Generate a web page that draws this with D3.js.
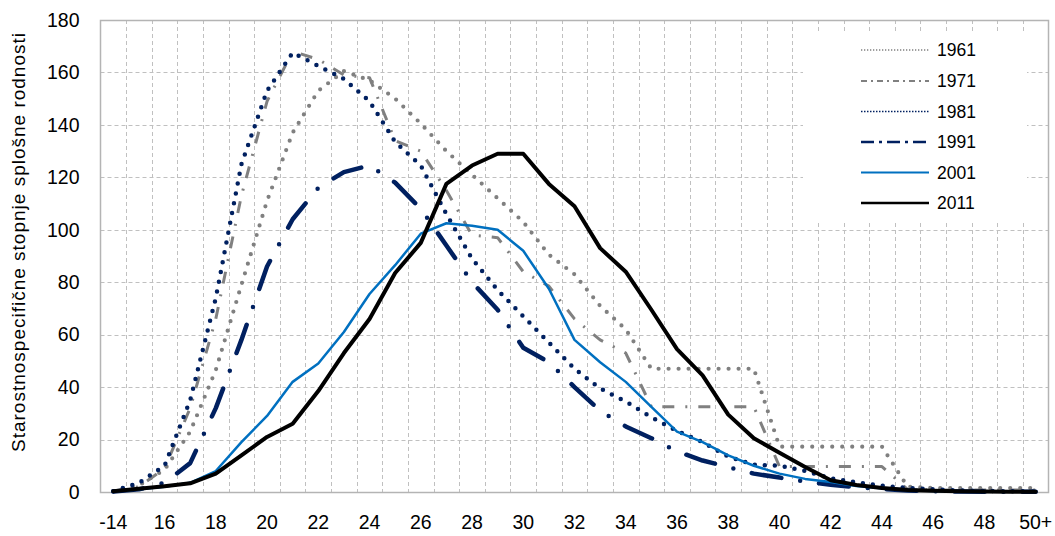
<!DOCTYPE html>
<html>
<head>
<meta charset="utf-8">
<script src="https://cdn.jsdelivr.net/npm/d3@7"></script>
<style>
  html, body { margin: 0; padding: 0; background: #fff; }
  svg { display: block; font-family: "Liberation Sans", Arial, sans-serif; }
</style>
</head>
<body>
<svg id="chart" width="1055" height="536"></svg>
<script>
const categories = ["-14","15","16","17","18","19","20","21","22","23","24","25","26","27","28","29","30","31","32","33","34","35","36","37","38","39","40","41","42","43","44","45","46","47","48","49","50+"];
const xTickLabels = ["-14","16","18","20","22","24","26","28","30","32","34","36","38","40","42","44","46","48","50+"];
const yTicks = [0,20,40,60,80,100,120,140,160,180];
const seriesNames = ["1961","1971","1981","1991","2001","2011"];
const yTitle = "Starostnospecifične stopnje splošne rodnosti";

const s1961 = [0.3,2.5,8.5,23,46.5,79,111,137,153,160.5,157,150,140.5,130,121,112,103,90.5,83,71,62,47,47,47,47,47,17.3,17.3,17.3,17.3,17.3,2,1.5,1.5,1.5,1.5,1.5];
const s1971 = [0.2,2,9,32,66,113,149,168,165,159,158,134,130,115,98,97,84,78.5,66,58,53,32.5,32.5,32.5,32.5,32.5,9.7,9.7,9.7,9.7,9.7,1,0.8,0.8,0.8,0.8,0.8];
const s1981 = [0.3,3.5,10,35,74,125,153,167.5,162.5,157.5,149,133.5,124.5,106,89,77,67,57,47,39.5,34.5,28.5,23.3,19,13.5,10.4,10,8,5.2,3.7,2.4,1.5,1,0.6,0.4,0.3,0.2];
const s1991 = [0.2,1,3.5,11,32,58,86,104,116,122,124.5,118,108,94,80,69.5,55,49.5,40,31,25,20.5,15.5,12,9.5,7,5.5,4,2.8,1.8,1.1,0.6,0.3,0.2,0.1,0.1,0.1];
const s2001 = [0.2,1,2,3.5,8,19,29,42,49,61,75.5,86.5,98.5,102.5,101.5,100,92,77.5,58,49.5,42,32.5,23,19,14,10,7,5,3.8,2.3,1.4,0.8,0.4,0.2,0.1,0.1,0.1];
const s2011 = [0.3,1.2,2.2,3.3,7,14,21,26,38.5,53,66,83.5,95,117.5,124.5,129,129,117.5,109,93,84,69.5,54.5,44.5,29.5,20.5,15,9.5,4.5,2.7,1.5,0.8,0.5,0.3,0.2,0.1,0.1];

const seriesValues = [s1961, s1971, s1981, s1991, s2001, s2011];

// styles (not data)
const lineStyles = [
  {color:"#808080", width:4.2, dash:"0 10", cap:"round"},
  {color:"#808080", width:3, dash:"12 11 2 11", cap:"butt"},
  {color:"#002060", width:4.5, dash:"0 10", cap:"round"},
  {color:"#002060", width:4.5, dash:"30 19 0 19", cap:"round"},
  {color:"#0070C0", width:2.5, dash:null, cap:"round"},
  {color:"#000000", width:4, dash:null, cap:"round"}
];
const legendStyles = [
  {color:"#808080", width:1.3, dash:"1.3 1.7"},
  {color:"#808080", width:2, dash:"6 4 2 4"},
  {color:"#002060", width:1.5, dash:"1.5 1.5"},
  {color:"#002060", width:2.5, dash:"13 5 3 5"},
  {color:"#0070C0", width:2, dash:null},
  {color:"#000000", width:2.5, dash:null}
];

const svg = d3.select("#chart");
const pLeft = 100.5, pRight = 1048.5, pTop = 20, pBottom = 492;

const x = d3.scaleBand().domain(categories).range([pLeft, pRight]).paddingInner(0).paddingOuter(0);
const y = d3.scaleLinear().domain([0, 180]).range([pBottom, pTop]);
const cx = c => x(c) + x.bandwidth() / 2;

const grid = svg.append("g");
grid.selectAll("line.h").data(yTicks.filter(v => v > 0 && v < 180)).enter().append("line")
  .attr("x1", pLeft).attr("x2", pRight)
  .attr("y1", d => Math.round(y(d)) + 0.5).attr("y2", d => Math.round(y(d)) + 0.5)
  .attr("stroke", "#c0c0c0").attr("stroke-width", 1).attr("stroke-dasharray", "4 3");
grid.selectAll("line.v").data(categories.slice(1)).enter().append("line")
  .attr("x1", d => Math.round(x(d)) + 0.5).attr("x2", d => Math.round(x(d)) + 0.5)
  .attr("y1", pTop).attr("y2", pBottom)
  .attr("stroke", "#c0c0c0").attr("stroke-width", 1).attr("stroke-dasharray", "4 3");

svg.append("rect").attr("x", pLeft).attr("y", pTop + 0.5).attr("width", pRight - pLeft).attr("height", pBottom - pTop)
  .attr("fill", "none").attr("stroke", "#b4b4b4").attr("stroke-width", 1.5);

svg.append("rect").attr("x", 803).attr("y", 32).attr("width", 224).attr("height", 188).attr("fill", "#fff");

const xAxis = d3.axisBottom(x).tickValues(xTickLabels).tickSize(0).tickPadding(23);
const gx = svg.append("g").attr("transform", `translate(0,${pBottom})`).call(xAxis);
gx.select(".domain").remove();
gx.selectAll("text").attr("font-size", 19.5).attr("fill", "#000").attr("font-family", "Liberation Sans, Arial, sans-serif");

const yAxis = d3.axisLeft(y).tickValues(yTicks).tickSize(0).tickPadding(21);
const gy = svg.append("g").attr("transform", `translate(${pLeft},0)`).call(yAxis);
gy.select(".domain").remove();
gy.selectAll("text").attr("font-size", 19.5).attr("fill", "#000").attr("font-family", "Liberation Sans, Arial, sans-serif");

svg.append("text")
  .attr("transform", `translate(25,${(pTop + pBottom) / 2 - 14}) rotate(-90)`)
  .attr("text-anchor", "middle")
  .attr("font-size", 19).attr("letter-spacing", "1px").attr("fill", "#000")
  .text(yTitle);

const line = d3.line().x((d, i) => cx(categories[i])).y(d => y(d));
seriesValues.forEach((vals, k) => {
  const st = lineStyles[k];
  svg.append("path").datum(vals)
    .attr("d", line)
    .attr("fill", "none")
    .attr("stroke", st.color)
    .attr("stroke-width", st.width)
    .attr("stroke-linejoin", "round")
    .attr("stroke-linecap", st.cap)
    .attr("stroke-dasharray", st.dash);
});

const legY = [50, 81, 111.5, 142, 172.5, 203];
const leg = svg.append("g");
seriesNames.forEach((name, k) => {
  const st = legendStyles[k];
  leg.append("line").attr("x1", 861).attr("x2", 929).attr("y1", legY[k]).attr("y2", legY[k])
    .attr("stroke", st.color).attr("stroke-width", st.width).attr("stroke-dasharray", st.dash);
  leg.append("text").attr("x", 937).attr("y", legY[k]).attr("dy", "0.36em")
    .attr("font-size", 17.5).attr("fill", "#000").text(name);
});
</script>
</body>
</html>
